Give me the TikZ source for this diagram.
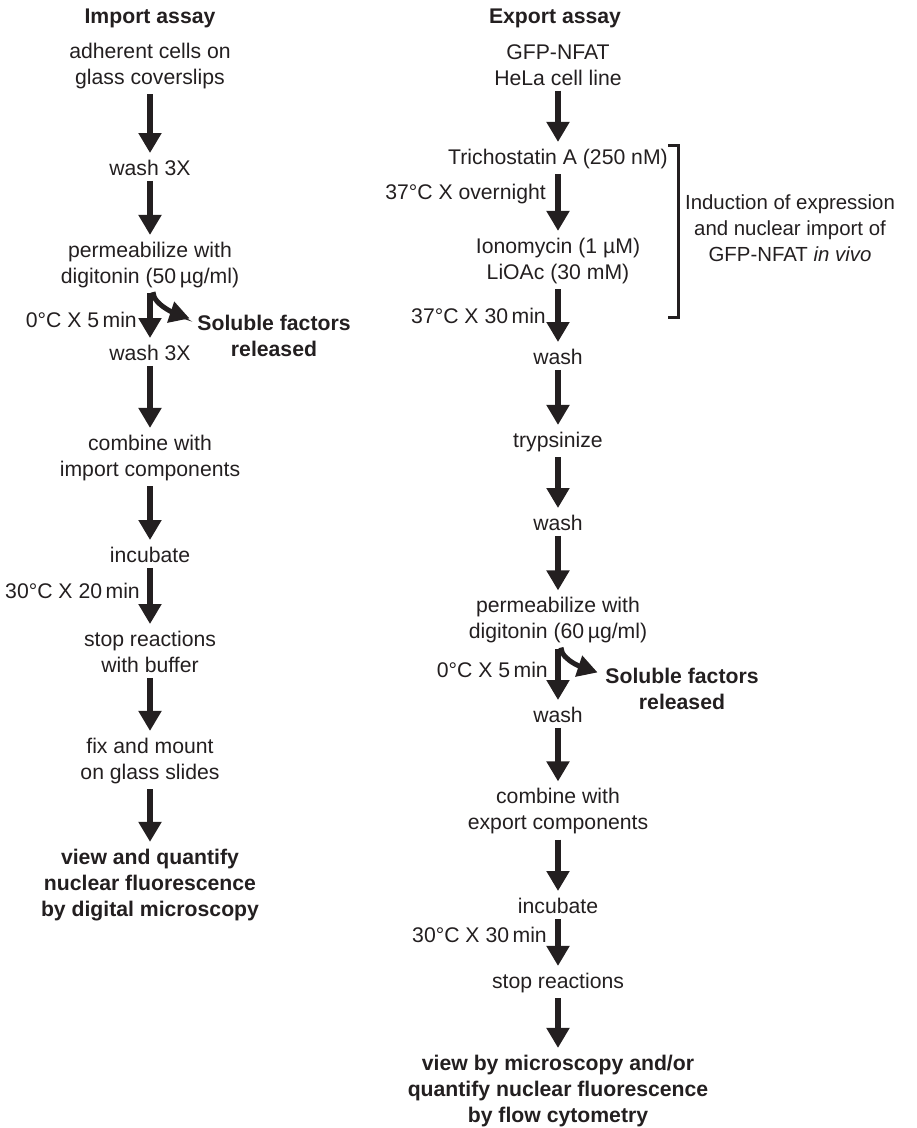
\documentclass[tikz,border=0pt]{standalone}
\usepackage{fontspec}
\setmainfont{Liberation Sans}
\usepackage{tikz}
\usetikzlibrary{arrows.meta}
\definecolor{ink}{RGB}{35,31,32}

\begin{document}
\begin{tikzpicture}[x=1pt, y=-1pt,
    every node/.style={font=\fontsize{21.2}{26}\selectfont, text=ink, inner sep=0pt},
    stage/.style={align=center},
    title/.style={font=\fontsize{21.2}{26}\selectfont\bfseries},
    result/.style={align=center, font=\fontsize{21.2}{26}\selectfont\bfseries},
    cond/.style={anchor=east},
    flow/.style={-{Triangle[width=22pt,length=20pt]}, line width=6pt, draw=ink,
        shorten <=5pt, shorten >=7pt},
    bleed/.style={-{Triangle[width=21pt,length=20pt]}, line width=5pt, draw=ink,
        shorten <=4pt, shorten >=8pt}]
    \useasboundingbox (0,0) rectangle (917,1128);

    % Import assay
    \node[title] (imptitle) at (150,18) {Import assay};
    \node[stage] (imp1) at (150,66) {adherent cells on\\glass coverslips};
    \node[stage] (imp2) at (150,168) {wash 3X};
    \node[stage] (imp3) at (150,265) {permeabilize with\\digitonin (50\,µg/ml)};
    \node[stage] (imp4) at (150,353) {wash 3X};
    \node[stage] (imp5) at (150,458) {combine with\\import components};
    \node[stage] (imp6) at (150,555) {incubate};
    \node[stage] (imp7) at (150,652) {stop reactions\\with buffer};
    \node[stage] (imp8) at (150,761) {fix and mount\\on glass slides};
    \node[result] (imp9) at (150,885) {view and quantify\\nuclear fluorescence\\by digital microscopy};
    \node[result] (impsol) at (274,335.5) {Soluble factors\\released};
    \node[cond] (impc1) at (137,320) {0°C X 5\,min};
    \node[cond] (impc2) at (140,591) {30°C X 20\,min};

    \draw[flow] (imp1.south) -- (imp2.north);
    \draw[flow] (imp2.south) -- (imp3.north);
    \draw[flow] (imp3.south) -- (imp4.north);
    \draw[flow] (imp4.south) -- (imp5.north);
    \draw[flow] (imp5.south) -- (imp6.north);
    \draw[flow] (imp6.south) -- (imp7.north);
    \draw[flow] (imp7.south) -- (imp8.north);
    \draw[flow] (imp8.south) -- (imp9.north);
    \draw[bleed] ([xshift=3pt]imp3.south) .. controls +(0,18) and +(-15,-5)
        .. ([yshift=14.5pt]impsol.west);

    % Export assay
    \node[title] (exptitle) at (555,18) {Export assay};
    \node[stage] (exp1) at (558,65) {GFP-NFAT\\HeLa cell line};
    \node[stage] (exp2) at (558,159) {Trichostatin A (250 nM)};
    \node[stage] (exp3) at (558,261) {Ionomycin (1 µM)\\LiOAc (30 mM)};
    \node[stage] (exp4) at (558,357) {wash};
    \node[stage] (exp5) at (558,442) {trypsinize};
    \node[stage] (exp6) at (558,523) {wash};
    \node[stage] (exp7) at (558,620.5) {permeabilize with\\digitonin (60\,µg/ml)};
    \node[stage] (exp8) at (558,715) {wash};
    \node[stage] (exp9) at (558,811.5) {combine with\\export components};
    \node[stage] (exp10) at (558,906) {incubate};
    \node[stage] (exp11) at (558,983) {stop reactions};
    \node[result] (exp12) at (558,1091) {view by microscopy and/or\\quantify nuclear fluorescence\\by flow cytometry};
    \node[result] (expsol) at (682,688.5) {Soluble factors\\released};
    \node[cond] (expc1) at (546,194) {37°C X overnight};
    \node[cond] (expc2) at (546,316) {37°C X 30\,min};
    \node[cond] (expc3) at (548,670) {0°C X 5\,min};
    \node[cond] (expc4) at (547,935) {30°C X 30\,min};

    \draw[flow] (exp1.south) -- (exp2.north);
    \draw[flow] (exp2.south) -- (exp3.north);
    \draw[flow] (exp3.south) -- (exp4.north);
    \draw[flow] (exp4.south) -- (exp5.north);
    \draw[flow] (exp5.south) -- (exp6.north);
    \draw[flow] (exp6.south) -- (exp7.north);
    \draw[flow] (exp7.south) -- (exp8.north);
    \draw[flow] (exp8.south) -- (exp9.north);
    \draw[flow] (exp9.south) -- (exp10.north);
    \draw[flow] (exp10.south) -- (exp11.north);
    \draw[flow] (exp11.south) -- (exp12.north);
    \draw[bleed] ([xshift=3pt]exp7.south) .. controls +(0,18) and +(-15,-5)
        .. ([yshift=13.5pt]expsol.west);

    % In vivo induction bracket
    \draw[ink, line width=3pt] (668,145) -- (678,145) -- (678,317) -- (668,317);
    \node[stage, font=\fontsize{20.4}{26}\selectfont] (induct) at (790,228)
        {Induction of expression\\and nuclear import of\\GFP-NFAT \textit{in vivo}};
\end{tikzpicture}
\end{document}
